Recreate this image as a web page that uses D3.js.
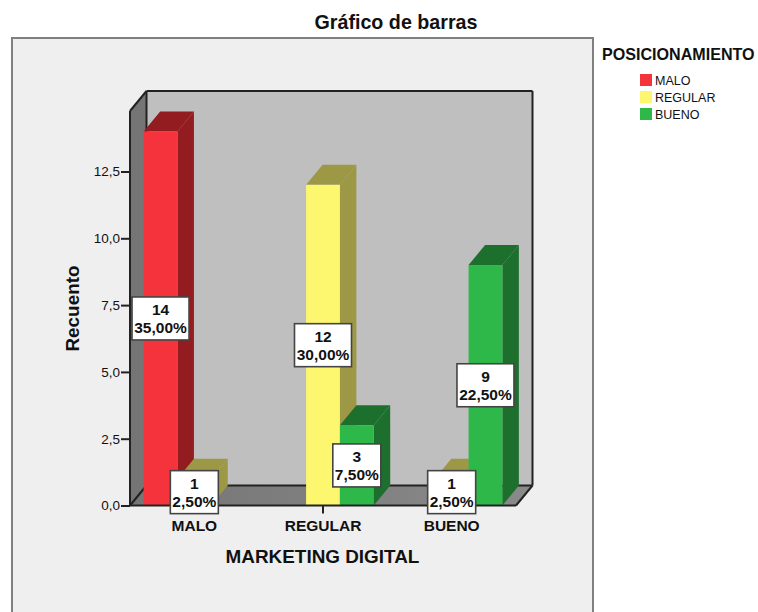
<!DOCTYPE html>
<html><head><meta charset="utf-8">
<style>html,body{margin:0;padding:0;background:#fff}svg{display:block}text{font-family:"Liberation Sans",Arial,sans-serif;fill:#111}</style>
<script src="https://cdn.jsdelivr.net/npm/d3@7/dist/d3.min.js"></script>
</head><body><svg id="c" width="758" height="612"></svg>
<script>
const categories = ["MALO","REGULAR","BUENO"];
const seriesNames = ["MALO","REGULAR","BUENO"];
const malo = [14,1,null];
const regular = [null,12,3];
const bueno = [null,1,9];
const counts = [malo,regular,bueno];
const percents = [["35,00%","2,50%",null],[null,"30,00%","7,50%"],[null,"2,50%","22,50%"]];
const yTicks = [0,2.5,5,7.5,10,12.5];
const frontColors = ["#f5333c","#fdf76f","#2fb84a"];
const darkColors = ["#931c21","#9d9845","#1d6f2e"];

const svg = d3.select("#c");
const dx = 16.5, dy = -20;
const y = d3.scaleLinear().domain([0,12.5]).range([505.5,171.5]);
const x = d3.scaleBand().domain(categories).range([130,516]);
const x1 = d3.scaleBand().domain(seriesNames).range([-50.7,50.7]);
const left=130, right=516, floorY=y(0), topY=111;
const poly = pts => pts.map(p=>p.join(",")).join(" ");

svg.append("rect").attr("x",12).attr("y",38).attr("width",581).attr("height",590)
  .attr("fill","#efefef").attr("stroke","#808080").attr("stroke-width",2);

// walls
svg.append("polygon").attr("points",poly([[left+dx,topY+dy],[right+dx,topY+dy],[right+dx,floorY+dy],[left+dx,floorY+dy]])).attr("fill","#bfbfbf");
svg.append("polygon").attr("points",poly([[left,topY],[left+dx,topY+dy],[left+dx,floorY+dy],[left,floorY]])).attr("fill","#757575");
const grad = svg.append("defs").append("linearGradient").attr("id","fl");
grad.append("stop").attr("offset","0%").attr("stop-color","#757575");
grad.append("stop").attr("offset","100%").attr("stop-color","#8a8a8a");
svg.append("polygon").attr("points",poly([[left,floorY],[left+dx,floorY+dy],[right+dx,floorY+dy],[right,floorY]])).attr("fill","url(#fl)");
const edge = (a,b)=>svg.append("line").attr("x1",a[0]).attr("y1",a[1]).attr("x2",b[0]).attr("y2",b[1]).attr("stroke","#222").attr("stroke-width",2);
edge([left,topY],[left+dx,topY+dy]);
edge([left+dx,topY+dy],[right+dx,topY+dy]);
edge([right+dx,topY+dy],[right+dx,floorY+dy]);
edge([left+dx,topY+dy],[left+dx,floorY+dy]);
edge([left+dx,floorY+dy],[right+dx,floorY+dy]);
edge([left,floorY],[left+dx,floorY+dy]);
edge([right,floorY],[right+dx,floorY+dy]);

// bars
const bw = x1.bandwidth();
const labels = [];
categories.forEach((cat,ci)=>{
  seriesNames.forEach((s,si)=>{
    const v = counts[ci][si];
    if(v===null) return;
    const x0 = x(cat)+x.bandwidth()/2+x1(s), x2=x0+bw, yt=y(v);
    const g = svg.append("g");
    g.append("polygon").attr("points",poly([[x0,yt],[x0+dx,yt+dy],[x2+dx,yt+dy],[x2,yt]])).attr("fill",darkColors[si]);
    g.append("polygon").attr("points",poly([[x2,yt],[x2+dx,yt+dy],[x2+dx,floorY+dy],[x2,floorY]])).attr("fill",darkColors[si]);
    g.append("rect").attr("x",x0).attr("y",yt).attr("width",bw).attr("height",floorY-yt).attr("fill",frontColors[si]);
    labels.push({cx:x0+bw/2,cy:(yt+floorY)/2,v,p:percents[ci][si]});
  });
});

// axes lines
edge([left,topY],[left,floorY]);
edge([left-1,floorY],[right,floorY]);
const yAxis = d3.axisLeft(y).tickValues(yTicks).tickSize(9).tickPadding(1).tickFormat(d=>d3.format(".1f")(d).replace(".",","));
const ya = svg.append("g").attr("transform",`translate(${left},0)`).call(yAxis);
ya.select(".domain").remove();
ya.selectAll("line").attr("stroke","#222").attr("stroke-width",2);
ya.selectAll("text").attr("font-size",13.5).attr("font-family","Liberation Sans").attr("fill","#222");
const xAxis = d3.axisBottom(x).tickSize(8).tickPadding(6);
const xa = svg.append("g").attr("transform",`translate(0,${floorY})`).call(xAxis);
xa.select(".domain").remove();
xa.selectAll("line").attr("stroke","#222").attr("stroke-width",2);
xa.selectAll("text").attr("font-size",15.5).attr("font-weight","bold").attr("font-family","Liberation Sans").attr("fill","#111");

// labels
labels.forEach(l=>{
  const w = l.p.length>5?57:48, h=43;
  const g = svg.append("g").attr("transform",`translate(${l.cx},${l.cy})`);
  g.append("rect").attr("x",-w/2).attr("y",-h/2).attr("width",w).attr("height",h).attr("fill","#fff").attr("stroke","#444").attr("stroke-width",1.6);
  g.append("text").attr("text-anchor","middle").attr("y",-3).attr("font-size",15.5).attr("font-weight","bold").text(l.v);
  g.append("text").attr("text-anchor","middle").attr("y",15).attr("font-size",15.5).attr("font-weight","bold").text(l.p);
});

// titles
svg.append("text").attr("x",396).attr("y",29).attr("text-anchor","middle").attr("font-size",19.7).attr("font-weight","bold").text("Gráfico de barras");
svg.append("text").attr("x",322.5).attr("y",563).attr("text-anchor","middle").attr("font-size",18.9).attr("font-weight","bold").text("MARKETING DIGITAL");
svg.append("text").attr("transform","translate(79,308.5) rotate(-90)").attr("text-anchor","middle").attr("font-size",18.9).attr("font-weight","bold").text("Recuento");

// legend
svg.append("text").attr("x",602).attr("y",60).attr("font-size",16.1).attr("font-weight","bold").text("POSICIONAMIENTO");
seriesNames.forEach((s,i)=>{
  const ly = 74+i*17;
  svg.append("rect").attr("x",640).attr("y",ly).attr("width",12).attr("height",12).attr("fill",frontColors[i]);
  svg.append("text").attr("x",655).attr("y",ly+11).attr("font-size",12.5).attr("fill","#222").text(s);
});
</script></body></html>
